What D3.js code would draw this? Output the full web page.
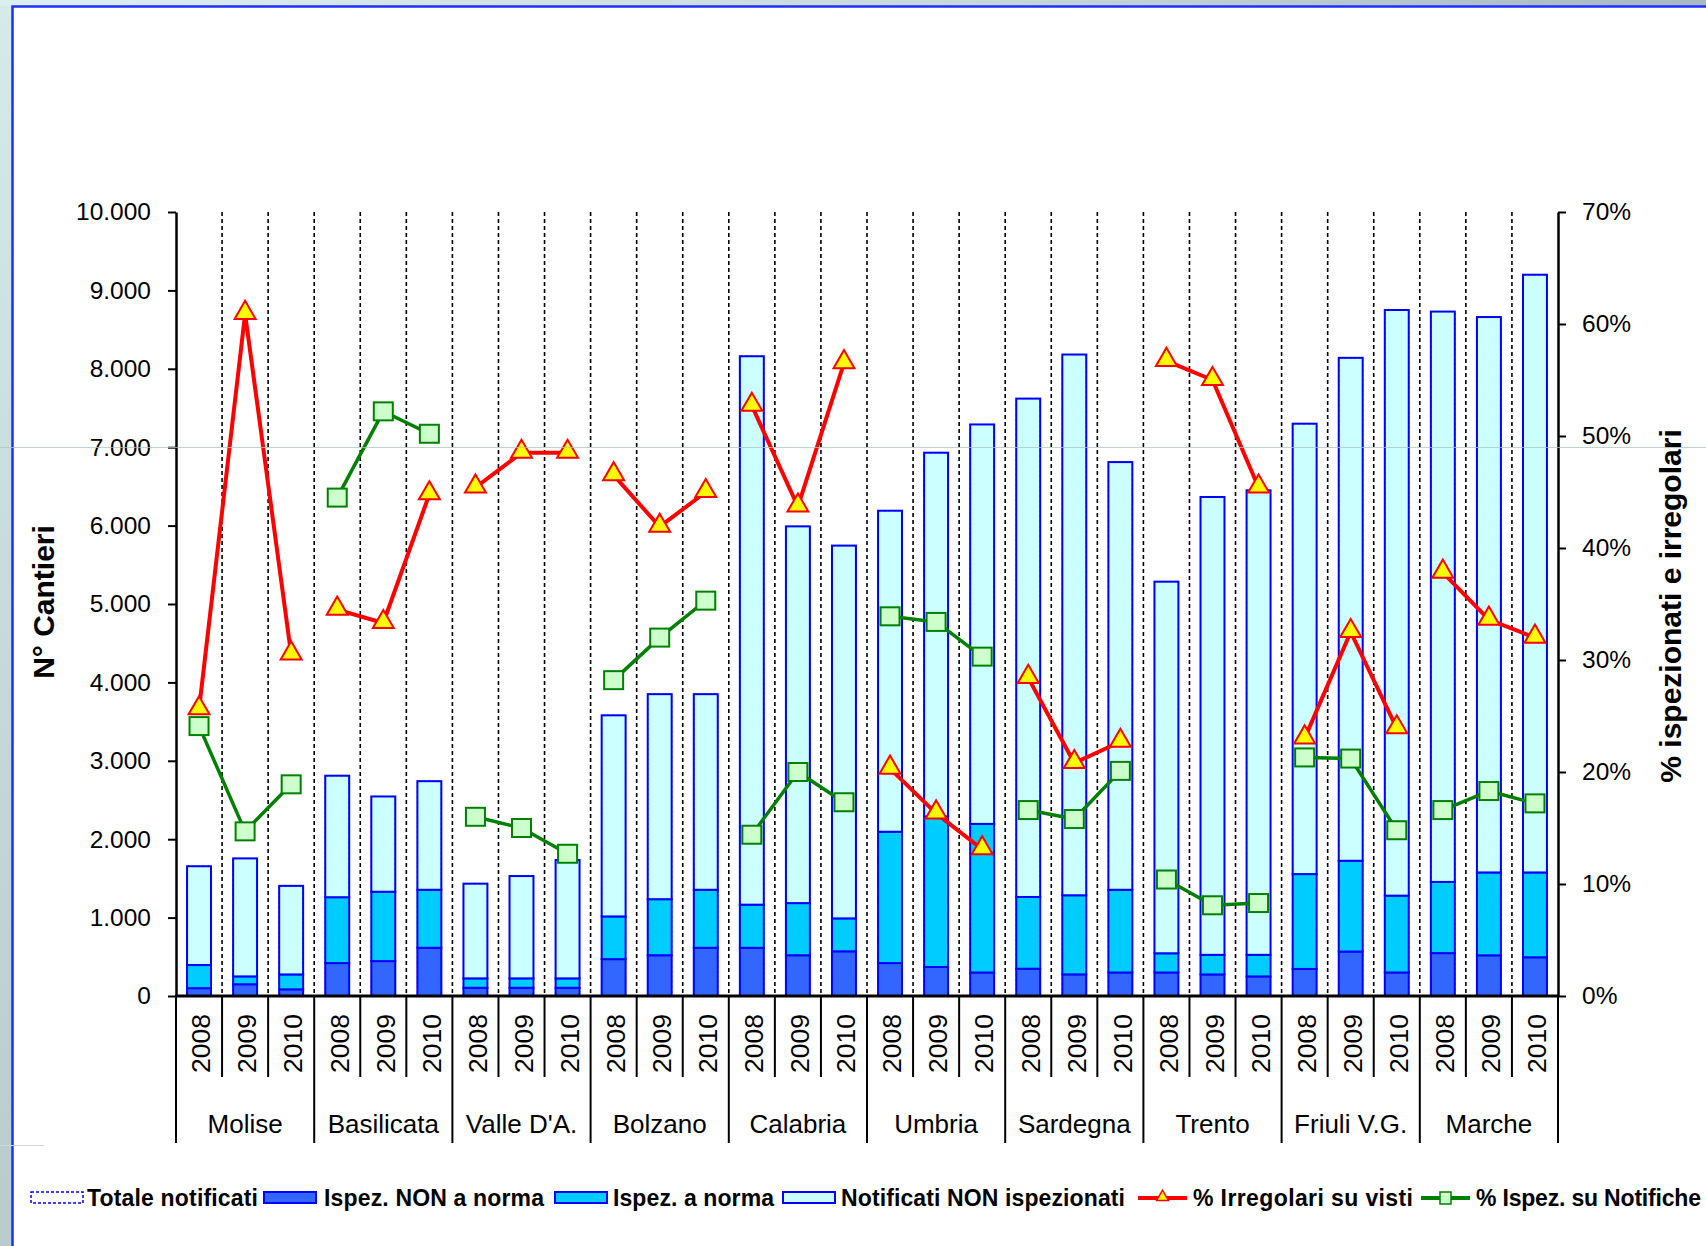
<!DOCTYPE html>
<html>
<head>
<meta charset="utf-8">
<script src="https://cdn.jsdelivr.net/npm/d3@7"></script>
<style>
  html, body { margin: 0; padding: 0; background: #fff; }
  svg { display: block; font-family: "Liberation Sans", Arial, Helvetica, sans-serif; }
</style>
</head>
<body>
<svg id="chart" width="1706" height="1246"></svg>
<script>
// ---- data ----
const regions = ["Molise", "Basilicata", "Valle D'A.", "Bolzano", "Calabria",
                 "Umbria", "Sardegna", "Trento", "Friuli V.G.", "Marche"];
const years = ["2008", "2009", "2010"];

// N° cantieri, one value per region-year (region order, then year)
const totaleNotificati = [1655, 1755, 1405, 2810, 2545, 2740, 1433, 1530, 1735,
                          3580, 3850, 3850, 8160, 5990, 5745, 6190, 6930, 7290,
                          7620, 8182, 6810, 5285, 6365, 6450, 7300, 8140, 8750,
                          8730, 8660, 9200];
const ispezNonNorma = [100, 150, 85, 420, 445, 615, 105, 105, 105,
                       470, 520, 615, 615, 520, 570, 420, 370, 300,
                       348, 276, 300, 300, 275, 250, 345, 567, 300,
                       547, 519, 494];
const ispezNorma = [295, 100, 190, 840, 885, 740, 120, 120, 120,
                    545, 715, 740, 550, 665, 420, 1675, 1920, 1895,
                    915, 1009, 1055, 245, 250, 275, 1210, 1158, 980,
                    908, 1057, 1082];
const notificatiNonIspez = [1260, 1505, 1130, 1550, 1215, 1385, 1208, 1305, 1510,
                            2565, 2615, 2495, 6995, 4805, 4755, 4095, 4640, 5095,
                            6357, 6897, 5455, 4740, 5840, 5925, 5745, 6415, 7470,
                            7275, 7084, 7624];

// percentages (right axis)
const pctIrregolari = [25.6, 60.9, 30.5, 34.5, 33.3, 44.8, 45.4, 48.5, 48.5,
                       46.5, 41.9, 45.0, 52.7, 43.7, 56.5, 20.3, 16.3, 13.1,
                       28.4, 20.8, 22.7, 56.7, 55.0, 45.4, 23.0, 32.5, 23.9,
                       37.8, 33.6, 32.0];
const pctIspezioni = [24.1, 14.7, 18.9, 44.5, 52.2, 50.2, 16.0, 15.0, 12.7,
                      28.2, 32.0, 35.3, 14.4, 20.0, 17.3, 33.9, 33.4, 30.3,
                      16.6, 15.8, 20.1, 10.4, 8.1, 8.3, 21.3, 21.2, 14.8,
                      16.6, 18.3, 17.2];

const leftTicks = [0, 1000, 2000, 3000, 4000, 5000, 6000, 7000, 8000, 9000, 10000];
const rightTicks = [0, 0.1, 0.2, 0.3, 0.4, 0.5, 0.6, 0.7];

const leftTitle = "N° Cantieri";
const rightTitle = "% ispezionati e irregolari";
const legendLabels = ["Totale notificati", "Ispez. NON a norma", "Ispez. a norma",
                      "Notificati NON ispezionati", "% Irregolari su visti", "% Ispez. su Notifiche"];

// ---- table built from the arrays ----
const rows = totaleNotificati.map((t, i) => ({
  i,
  region: regions[Math.floor(i / years.length)],
  year: years[i % years.length],
  totale: t,
  nonNorma: ispezNonNorma[i],
  norma: ispezNorma[i],
  nonIspez: notificatiNonIspez[i],
  irr: pctIrregolari[i] / 100,
  isp: pctIspezioni[i] / 100
}));

// ---- layout ----
const W = 1706, H = 1246;
const plot = { left: 176, right: 1558, top: 212, bottom: 996 };
const colors = {
  nonNorma: "#3366ff", norma: "#00ccff", nonIspez: "#ccffff",
  barStroke: "#0000ff", red: "#ff0000", yellow: "#ffff00",
  green: "#008000", lightGreen: "#ccffcc"
};
// legend entry placement: swatch x, label x, label width
const legendLayout = [
  { sx: 31,   tx: 87,   tw: 171 },
  { sx: 264,  tx: 324,  tw: 220 },
  { sx: 555,  tx: 613,  tw: 161 },
  { sx: 783,  tx: 841,  tw: 284 },
  { sx: 1138, tx: 1193, tw: 220 },
  { sx: 1421, tx: 1476, tw: 225 }
];

const svg = d3.select("#chart");
const defs = svg.append("defs");

// slide backdrop: tinted band on top/left, white sheet framed in blue
const gTop = defs.append("linearGradient").attr("id", "bandTop")
  .attr("x1", 0).attr("x2", 1).attr("y1", 0).attr("y2", 0);
gTop.append("stop").attr("offset", 0).attr("stop-color", "#dcefee");
gTop.append("stop").attr("offset", 0.55).attr("stop-color", "#c6dadb");
gTop.append("stop").attr("offset", 1).attr("stop-color", "#a7b9c1");
const gLeft = defs.append("linearGradient").attr("id", "bandLeft")
  .attr("x1", 0).attr("x2", 0).attr("y1", 0).attr("y2", 1);
gLeft.append("stop").attr("offset", 0).attr("stop-color", "#d6eae8");
gLeft.append("stop").attr("offset", 1).attr("stop-color", "#b9cbcb");

svg.append("rect").attr("width", W).attr("height", H).attr("fill", "url(#bandLeft)");
svg.append("rect").attr("width", W).attr("height", 6).attr("fill", "url(#bandTop)");
svg.append("rect").attr("x", 12).attr("y", 6).attr("width", W - 12).attr("height", H - 6).attr("fill", "#ffffff");
svg.append("path").attr("d", `M12.5,${H} V6.5 H${W}`)
  .attr("fill", "none").attr("stroke", "#1f2fff").attr("stroke-width", 2.5);

// ---- scales ----
const x = d3.scaleBand().domain(d3.range(rows.length))
  .range([plot.left, plot.right]).paddingInner(0.48).paddingOuter(0.24);
const yL = d3.scaleLinear().domain([0, 10000]).range([plot.bottom, plot.top]);
const yR = d3.scaleLinear().domain([0, 0.7]).range([plot.bottom, plot.top]);
const slotEdge = k => k >= rows.length ? plot.right : x(k) - (x.step() - x.bandwidth()) / 2;
const cx = i => x(i) + x.bandwidth() / 2;

const itLocale = d3.formatLocale({ decimal: ",", thousands: ".", grouping: [3], currency: ["€", ""] });
const fmtN = itLocale.format(",d");

// ---- dashed separators inside the plot ----
svg.append("g").selectAll("line").data(d3.range(1, rows.length)).join("line")
  .attr("x1", k => slotEdge(k)).attr("x2", k => slotEdge(k))
  .attr("y1", plot.top).attr("y2", plot.bottom)
  .attr("stroke", "#000").attr("stroke-width", 1.6).attr("stroke-dasharray", "4,3");

// ---- stacked bars ----
const stack = d3.stack().keys(["nonNorma", "norma", "nonIspez"]);
const series = stack(rows);
svg.append("g").selectAll("g").data(series).join("g")
  .attr("fill", s => colors[s.key])
  .selectAll("rect").data(s => s).join("rect")
  .attr("x", d => x(d.data.i))
  .attr("width", x.bandwidth())
  .attr("y", d => yL(d[1]))
  .attr("height", d => yL(d[0]) - yL(d[1]))
  .attr("stroke", colors.barStroke).attr("stroke-width", 2);

// total notified outline
svg.append("g").selectAll("rect").data(rows).join("rect")
  .attr("x", d => x(d.i)).attr("width", x.bandwidth())
  .attr("y", d => yL(d.totale)).attr("height", d => yL(0) - yL(d.totale))
  .attr("fill", "none").attr("stroke", colors.barStroke).attr("stroke-width", 1)
  .attr("stroke-dasharray", "3,2");

// ---- axes ----
const axL = svg.append("g").attr("transform", `translate(${plot.left},0)`)
  .call(d3.axisLeft(yL).tickValues(leftTicks).tickFormat(fmtN).tickSize(8).tickSizeOuter(0).tickPadding(17));
const axR = svg.append("g").attr("transform", `translate(${plot.right},0)`)
  .call(d3.axisRight(yR).tickValues(rightTicks).tickFormat(d3.format(".0%")).tickSize(8).tickSizeOuter(0).tickPadding(16));
[axL, axR].forEach(a => {
  a.select(".domain").attr("stroke", "#000").attr("stroke-width", 2.5);
  a.selectAll(".tick line").attr("stroke", "#000").attr("stroke-width", 2);
  a.selectAll(".tick text").attr("font-size", 24.5).attr("fill", "#000")
    .attr("font-family", "'Liberation Sans', Arial, sans-serif");
});

// category axis: base line, year separators, region separators
const cat = svg.append("g");
cat.append("line").attr("x1", plot.left - 1).attr("x2", plot.right + 1)
  .attr("y1", plot.bottom).attr("y2", plot.bottom)
  .attr("stroke", "#000").attr("stroke-width", 2.8);
cat.selectAll("line.sep").data(d3.range(0, rows.length + 1)).join("line")
  .attr("class", "sep")
  .attr("x1", k => slotEdge(k)).attr("x2", k => slotEdge(k))
  .attr("y1", plot.bottom)
  .attr("y2", k => k % years.length === 0 ? 1143 : 1077)
  .attr("stroke", "#000").attr("stroke-width", 2);

cat.selectAll("text.year").data(rows).join("text")
  .attr("class", "year")
  .attr("transform", d => `translate(${cx(d.i) + 2},1014) rotate(-90)`)
  .attr("dy", "0.35em").attr("text-anchor", "end")
  .attr("font-size", 26.5).attr("fill", "#000")
  .text(d => d.year);

cat.selectAll("text.region").data(regions).join("text")
  .attr("class", "region")
  .attr("x", (r, j) => (slotEdge(j * 3) + slotEdge(j * 3 + 3)) / 2)
  .attr("y", 1133).attr("text-anchor", "middle")
  .attr("font-size", 26).attr("fill", "#000")
  .text(r => r);

// axis titles
svg.append("text").attr("transform", "translate(43,602) rotate(-90)")
  .attr("dy", "0.35em").attr("text-anchor", "middle")
  .attr("font-size", 30).attr("font-weight", "bold").attr("fill", "#000")
  .text(leftTitle);
svg.append("text").attr("transform", "translate(1670,606) rotate(-90)")
  .attr("dy", "0.35em").attr("text-anchor", "middle")
  .attr("font-size", 30).attr("font-weight", "bold").attr("fill", "#000")
  .text(rightTitle);

// ---- percentage lines (one segment per region) ----
const byRegion = d3.groups(rows, d => d.region);
const tri = d3.symbol().type(d3.symbolTriangle).size(190);

const redLine = d3.line().x(d => cx(d.i)).y(d => yR(d.irr));
svg.append("g").selectAll("path").data(byRegion).join("path")
  .attr("d", g => redLine(g[1]))
  .attr("fill", "none").attr("stroke", colors.red).attr("stroke-width", 4).attr("stroke-linejoin", "round");
svg.append("g").selectAll("path").data(rows).join("path")
  .attr("transform", d => `translate(${cx(d.i)},${yR(d.irr) - 1})`)
  .attr("d", tri)
  .attr("fill", colors.yellow).attr("stroke", colors.red).attr("stroke-width", 2);

const greenLine = d3.line().x(d => cx(d.i)).y(d => yR(d.isp));
svg.append("g").selectAll("path").data(byRegion).join("path")
  .attr("d", g => greenLine(g[1]))
  .attr("fill", "none").attr("stroke", colors.green).attr("stroke-width", 3.5).attr("stroke-linejoin", "round");
svg.append("g").selectAll("rect").data(rows).join("rect")
  .attr("x", d => cx(d.i) - 9.5).attr("y", d => yR(d.isp) - 9)
  .attr("width", 19).attr("height", 18)
  .attr("fill", colors.lightGreen).attr("stroke", colors.green).attr("stroke-width", 2);

// faint ruling of the slide sheet
svg.append("line").attr("x1", 0).attr("x2", W).attr("y1", 447.5).attr("y2", 447.5)
  .attr("stroke", "#a9c6c2").attr("stroke-width", 1).attr("opacity", 0.75);
svg.append("line").attr("x1", 0).attr("x2", 44).attr("y1", 1145.5).attr("y2", 1145.5)
  .attr("stroke", "#c9d8d8").attr("stroke-width", 1);

// ---- legend ----
const legend = svg.append("g").attr("font-size", 23).attr("font-weight", "bold").attr("fill", "#000");
const legendY = 1198;
const kinds = ["total", "nonNorma", "norma", "nonIspez", "red", "green"];
kinds.forEach((k, j) => {
  const g = legend.append("g");
  const L = legendLayout[j];
  if (k === "red" || k === "green") {
    const col = k === "red" ? colors.red : colors.green;
    g.append("line").attr("x1", L.sx).attr("x2", L.sx + 49).attr("y1", legendY).attr("y2", legendY)
      .attr("stroke", col).attr("stroke-width", 4);
    if (k === "red") {
      g.append("path").attr("transform", `translate(${L.sx + 24.5},${legendY - 1})`)
        .attr("d", d3.symbol().type(d3.symbolTriangle).size(60))
        .attr("fill", colors.yellow).attr("stroke", colors.red).attr("stroke-width", 1.5);
    } else {
      g.append("rect").attr("x", L.sx + 19).attr("y", legendY - 6).attr("width", 11).attr("height", 12)
        .attr("fill", colors.lightGreen).attr("stroke", colors.green).attr("stroke-width", 1.5);
    }
  } else {
    g.append("rect").attr("x", L.sx).attr("y", legendY - 6).attr("width", 52).attr("height", 11)
      .attr("fill", k === "total" ? "#ffffff" : colors[k])
      .attr("stroke", colors.barStroke).attr("stroke-width", k === "total" ? 1.5 : 2)
      .attr("stroke-dasharray", k === "total" ? "3,2" : null);
  }
  g.append("text").attr("x", L.tx).attr("y", legendY + 8)
    .attr("textLength", L.tw).attr("lengthAdjust", "spacing")
    .text(legendLabels[j]);
});
</script>
</body>
</html>
